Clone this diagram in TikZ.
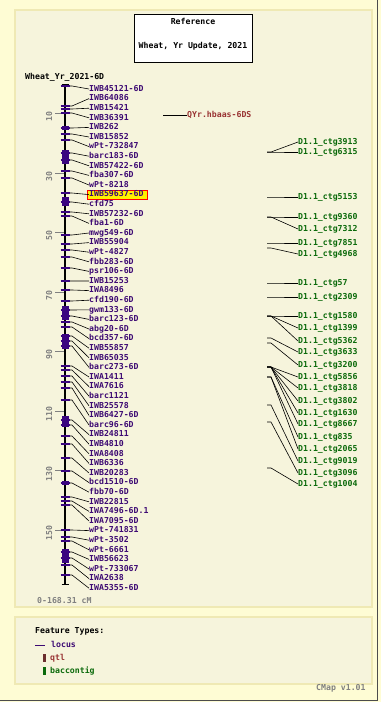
\documentclass[tikz,border=0pt]{standalone}
\usepackage{fontspec}
\newfontfamily\cmapfont{DejaVu Sans Mono Bold}
\usetikzlibrary{positioning}

\definecolor{outerbg}{HTML}{FEFCD4}
\definecolor{panelbg}{HTML}{F6F4DC}
\definecolor{panelrule}{HTML}{EFE9B4}
\definecolor{locuscol}{HTML}{3D0A73}
\definecolor{locusfill}{HTML}{3A0580}
\definecolor{qtlcol}{HTML}{993333}
\definecolor{qtlfill}{HTML}{6B2E2E}
\definecolor{ctgcol}{HTML}{0B6A0B}
\definecolor{scalecol}{HTML}{808080}

\begin{document}
\begin{tikzpicture}[x=1pt,y=-1pt,
  every node/.style={font=\cmapfont\fontsize{8.2}{10}\selectfont, inner sep=0pt,
    text height=5.6pt, text depth=1.2pt},
  lbl/.style={anchor=west},
  marker/.style={lbl, text=locuscol},
  contig/.style={lbl, text=ctgcol},
  scalenum/.style={text=scalecol, rotate=90},
  leader/.style={black, line width=0.6pt},
  tickmark/.style={locusfill, line width=1.4pt},
  scaletick/.style={scalecol, line width=0.8pt},
  hilite/.style={fill=yellow, draw=red, line width=0.8pt},
  panel/.style={fill=panelbg, draw=panelrule, line width=1.5pt}]
\useasboundingbox (0,0) rectangle (381,702);
\fill[outerbg] (0,0) rectangle (381,702);
\draw[black!70, line width=1.2pt] (377.5,0) -- (377.5,700.5) -- (0,700.5);
\draw[panel] (15,10) rectangle (372,607);
\draw[panel] (15,617) rectangle (372,684);

\node[draw=black, fill=white, line width=0.8pt, minimum width=118pt, minimum height=48pt] (ttl) at (193,38) {};
\node (t1) at (193,22) {Reference};
\node (t2) at (193,46) {Wheat, Yr Update, 2021};
\node[lbl] (map) at (25,77) {Wheat\_Yr\_2021-6D};

\foreach \v in {10,30,...,150} {
    \coordinate (s\v) at (65,{84+2.975*\v});
    \draw[scaletick] (s\v) -- ++(-10,0);
    \node[scalenum] (n\v) at (50,{87+2.975*\v}) {\v};
}
\draw[black, line width=2pt] (65,84) -- (65,585);
\draw[black, line width=1.2pt] (61.5,84.6) -- (68.5,84.6);
\draw[black, line width=1.2pt] (61.5,584.4) -- (68.5,584.4);
\foreach \a/\b in {126/130, 150/164, 197/206, 306/320, 334/349, 416/427, 481/485, 549/563} {
    \fill[locusfill] (61.5,\a) rectangle (68.5,\b);
}

\draw[hilite] (87,190.5) rectangle (147,199);
\foreach \lab/\pos [count=\i] in {IWB45121-6D/86, IWB64086/106, IWB15421/109, IWB36391/113,
    IWB262/128, IWB15852/134, wPt-732847/140, barc183-6D/153, IWB57422-6D/160,
    fba307-6D/171, wPt-8218/178, IWB59637-6D/193, cfd75/202, IWB57232-6D/212,
    fba1-6D/216, mwg549-6D/235, IWB55904/244, wPt-4827/250, fbb283-6D/257,
    psr106-6D/268, IWB15253/281, IWA8496/290, cfd190-6D/301, gwm133-6D/310,
    barc123-6D/316, abg20-6D/322, bcd357-6D/327, IWB55857/336, IWB65035/341,
    barc273-6D/346, IWA1411/366, IWA7616/370, barc1121/376, IWB25578/382,
    IWB6427-6D/388, barc96-6D/400, IWB24811/420, IWB4810/425, IWA8408/436,
    IWB6336/444, IWB20283/458, bcd1510-6D/471, fbb70-6D/483, IWB22815/497,
    IWA7496-6D.1/501, IWA7095-6D/505, wPt-741831/530, wPt-3502/537, wPt-6661/541,
    IWB56623/552, wPt-733067/558, IWA2638/565, IWA5355-6D/575} {
    \coordinate (b\i) at (69,\pos);
    \node[marker] (m\i) at (89,{89+9.6*(\i-1)}) {\lab};
    \draw[leader] (b\i) -- ++(3,0) -- (m\i.west);
    \draw[tickmark] (60.5,\pos) -- (69.5,\pos);
}

\coordinate (qs) at (163,115);
\node[lbl, text=qtlcol] (q1) at (187,115) {QYr.hbaas-6DS};
\draw[leader] (qs) -- (q1.west);

\foreach \ctg/\from/\to [count=\j] in {3913/152/142, 6315/152/152, 5153/197/197,
    9360/217/217, 7312/217/229, 7851/243/243, 4968/248/254, 57/283/283,
    2309/297/297, 1580/316/316, 1399/316/328, 5362/316/341, 3633/338/352,
    3200/343/365, 5856/367/377, 3818/367/388, 3802/367/401, 1630/367/413,
    8667/367/424, 835/377/437, 2065/377/449, 9019/405/461, 3096/422/473,
    1004/468/484} {
    \coordinate (c\j) at (267,\from);
    \node[contig] (g\j) at (298,\to) {D1.1\_ctg\ctg};
    \draw[leader] (c\j) -- ++(4,0) -- (g\j.west);
}

\node[lbl, text=scalecol] (rng) at (37,601) {0-168.31 cM};

\node[lbl] (ftypes) at (35,631) {Feature Types:};
\coordinate (k1) at (35,645);
\node[lbl, text=locuscol] (klocus) at (51,645) {locus};
\draw[locuscol, line width=0.8pt] (k1) -- ++(10,0);
\fill[qtlfill] (43,654) rectangle (46,662);
\node[lbl, text=qtlcol] (kqtl) at (50,658) {qtl};
\fill[ctgcol] (43,667) rectangle (46,675);
\node[lbl, text=ctgcol] (kctg) at (50,671) {baccontig};
\node[lbl, text=scalecol] (ver) at (316,688) {CMap v1.01};
\end{tikzpicture}
\end{document}
